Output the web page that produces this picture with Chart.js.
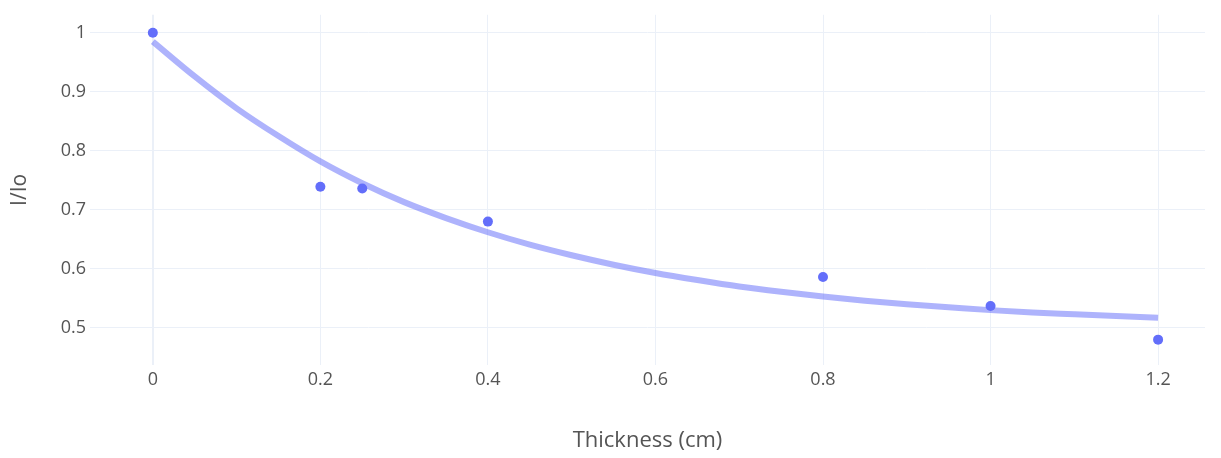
<!DOCTYPE html>
<html lang="en">
<head>
    <meta charset="UTF-8">
    <title>I/Io vs Thickness</title>
    <style>
        body { margin: 0; background-color: white; }
        #wrap { width: 1221px; height: 458px; }
    </style>
    <script src="https://cdn.jsdelivr.net/npm/chart.js"></script>
</head>
<body>
    <div id="wrap"><canvas id="fitChart"></canvas></div>

    <script>
        // Measured points
        const thickness = [0, 0.2, 0.25, 0.4, 0.8, 1.0, 1.2];
        const ratio = [1.0, 0.739, 0.736, 0.680, 0.586, 0.537, 0.480];

        // Fitted curve
        const fitX = [0, 0.05, 0.1, 0.15, 0.2, 0.25, 0.3, 0.35, 0.4, 0.45, 0.5, 0.55, 0.6,
                      0.65, 0.7, 0.75, 0.8, 0.85, 0.9, 0.95, 1.0, 1.05, 1.1, 1.15, 1.2];
        const fitY = [0.985, 0.926, 0.872, 0.825, 0.782, 0.745, 0.713, 0.686, 0.662, 0.641, 0.623, 0.607, 0.593,
                      0.581, 0.570, 0.561, 0.553, 0.546, 0.540, 0.535, 0.530, 0.526, 0.523, 0.520, 0.517];

        const xTicks = [0, 0.2, 0.4, 0.6, 0.8, 1, 1.2];
        const yTicks = [0.5, 0.6, 0.7, 0.8, 0.9, 1];

        const gridColor = '#ebf0f8';
        const textColor = '#555';
        const tickFont = { family: 'Open Sans', size: 18 };

        new Chart(document.getElementById('fitChart'), {
            type: 'scatter',
            data: {
                datasets: [
                    {
                        label: 'Fit',
                        data: fitX.map((x, i) => ({ x: x, y: fitY[i] })),
                        showLine: true,
                        borderColor: 'rgba(99,110,250,0.52)',
                        borderWidth: 6,
                        pointRadius: 0,
                        cubicInterpolationMode: 'monotone'
                    },
                    {
                        label: 'Data',
                        data: thickness.map((x, i) => ({ x: x, y: ratio[i] })),
                        backgroundColor: '#636efa',
                        borderColor: '#636efa',
                        pointRadius: 5,
                        borderWidth: 0
                    }
                ]
            },
            options: {
                responsive: true,
                maintainAspectRatio: false,
                animation: false,
                layout: { padding: { top: 0, right: 16, left: 0, bottom: 0 } },
                plugins: { legend: { display: false }, tooltip: { enabled: false } },
                scales: {
                    x: {
                        type: 'linear',
                        min: -0.075,
                        max: 1.256,
                        afterBuildTicks: s => { s.ticks = xTicks.map(v => ({ value: v })); },
                        afterFit: s => { s.height = 93; },
                        border: { display: false },
                        grid: {
                            color: gridColor,
                            drawTicks: false,
                            lineWidth: c => (c.tick && c.tick.value === 0 ? 2 : 1)
                        },
                        ticks: {
                            padding: 4,
                            color: textColor,
                            font: tickFont,
                            callback: v => String(v)
                        },
                        title: {
                            display: true,
                            text: 'Thickness (cm)',
                            color: textColor,
                            font: { family: 'Open Sans', size: 22 },
                            padding: { top: 0, bottom: 4 }
                        }
                    },
                    y: {
                        min: 0.437,
                        max: 1.0305,
                        afterBuildTicks: s => { s.ticks = yTicks.map(v => ({ value: v })); },
                        afterFit: s => { s.width = 90; },
                        border: { display: false },
                        grid: { color: gridColor, drawTicks: false },
                        ticks: {
                            padding: 4,
                            color: textColor,
                            font: tickFont,
                            callback: v => String(+v.toFixed(1))
                        },
                        title: {
                            display: true,
                            text: 'I/Io',
                            color: textColor,
                            font: { family: 'Open Sans', size: 21 },
                            padding: { top: 7, bottom: 0 }
                        }
                    }
                }
            }
        });
    </script>
</body>
</html>
